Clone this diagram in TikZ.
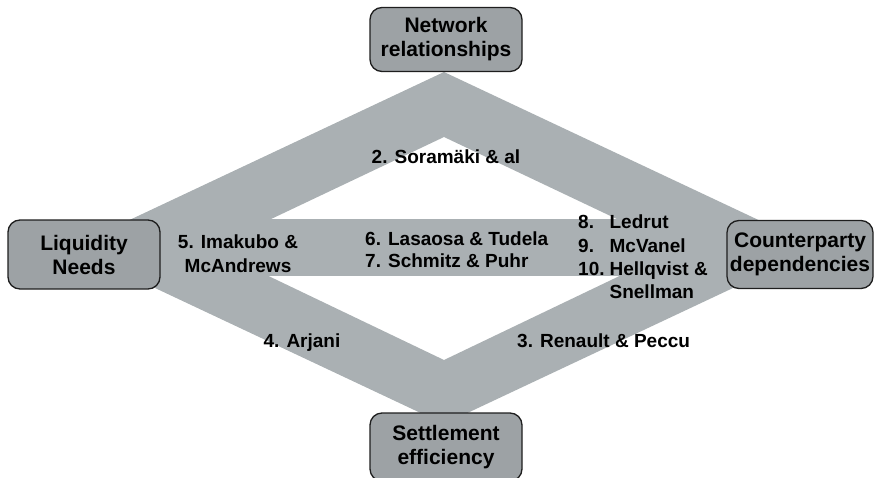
\documentclass[tikz,border=0pt]{standalone}
\usepackage{fontspec}
\setmainfont{Liberation Sans}
\definecolor{bandgray}{HTML}{AAB0B3}
\definecolor{boxgray}{HTML}{9DA2A5}
\definecolor{boxline}{HTML}{1E1E1E}
\tikzset{
  topic/.style={draw=boxline, line width=1.3pt, fill=boxgray, rounded corners=12pt,
    align=center, inner sep=0pt, font=\fontsize{21}{24}\selectfont\bfseries},
  lbl/.style={inner sep=0pt, font=\fontsize{19}{22}\selectfont\bfseries},
  band/.style={fill=bandgray}
}
\begin{document}
\begin{tikzpicture}[x=1pt,y=-1pt]
\useasboundingbox (0,0) rectangle (874,478);
\clip (0,0) rectangle (874,478);
% band
\fill[band, even odd rule] (444,72) -- (818,248) -- (444,424) -- (70,248) -- cycle
  (444,137) -- (678,248) -- (444,360) -- (210,248) -- cycle;
\fill[band] (150,219) rectangle (740,276);
% labels
\node[lbl, anchor=base] (l2) at (446,164) {2. Soramäki \& al};
\node[lbl, anchor=base] (l5) at (238,248) {\begin{tabular}[t]{@{}c@{}}5. Imakubo \&\\[2pt] McAndrews\end{tabular}};
\node[lbl, anchor=base west] (l6) at (365,245) {\begin{tabular}[t]{@{}l@{}}6. Lasaosa \& Tudela\\ 7. Schmitz \& Puhr\end{tabular}};
\node[lbl, anchor=base west] (l8) at (578,229) {\renewcommand{\arraystretch}{1.05}\begin{tabular}[t]{@{}l@{\hspace{5pt}}l@{}}8. & Ledrut\\ 9. & McVanel\\ 10. & Hellqvist \&\\ & Snellman\end{tabular}};
\node[lbl, anchor=base] (l4) at (302,347) {4. Arjani};
\node[lbl, anchor=base west] (l3) at (517,347) {3. Renault \& Peccu};
% topic boxes
\node[topic, minimum width=152pt, minimum height=64pt] (net) at (446,39.5) {Network\\relationships};
\node[topic, minimum width=152pt, minimum height=69pt] (liq) at (84,254.5) {Liquidity\\Needs};
\node[topic, minimum width=146pt, minimum height=68pt] (cp) at (800,254.5) {Counterparty\\dependencies};
\node[topic, minimum width=152pt, minimum height=68pt] (set) at (446,447) {Settlement\\efficiency};
\end{tikzpicture}
\end{document}
